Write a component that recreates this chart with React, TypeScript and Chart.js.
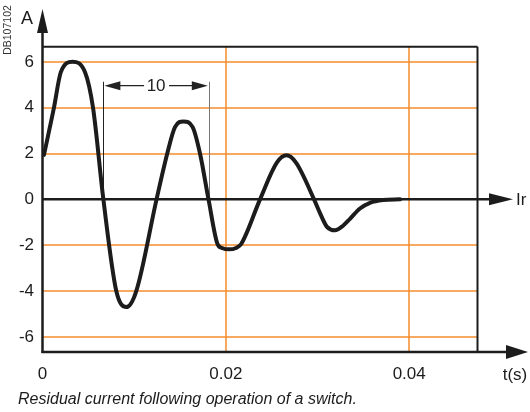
import React, { useEffect, useRef } from 'react';
import { Chart, registerables } from 'chart.js';

Chart.register(...registerables);

// ---- data ----
const timeS = [
  0.00016, 0.00125, 0.002, 0.00327, 0.00464, 0.00551, 0.00664, 0.00805, 0.00916, 0.01023,
  0.01244, 0.01361, 0.01445, 0.01538, 0.01638, 0.01718, 0.01811, 0.01909, 0.01958, 0.02034,
  0.02111, 0.02167, 0.02373, 0.02556, 0.02662, 0.02765, 0.02962, 0.03027, 0.03103, 0.03191,
  0.03278, 0.03354, 0.03463, 0.03572, 0.03714, 0.039,
];
const currentA = [
  1.94, 4.0, 5.55, 6.0, 5.55, 4.0, 0, -4.0, -4.7, -4.0,
  0, 2.0, 3.15, 3.4, 3.15, 2.0, 0, -1.95, -2.12, -2.18,
  -2.12, -1.95, 0, 1.6, 1.92, 1.6, 0, -0.6, -1.2, -1.35,
  -1.15, -0.85, -0.4, -0.15, -0.03, 0,
];
const xTicks = [0, 0.02, 0.04];
const yTicks = [-6, -4, -2, 0, 2, 4, 6];
const xRange = [0, 0.04745];
const yRange = [-6.66, 6.66];
const periodMarks = [0.00664, 0.01814];
const periodTop = 5.13;
const periodArrowLevel = 4.96;
const periodLabel = '10';
const yAxisTitle = 'A';
const xAxisTitle = 't(s)';
const zeroLineLabel = 'Ir';
const docCode = 'DB107102';
const caption = 'Residual current following operation of a switch.';

const ORANGE = '#f58d2e';
const INK = '#1c1c1c';
const FONT = '"Liberation Sans", Arial, Helvetica, sans-serif';

function arrowHead(ctx: CanvasRenderingContext2D, tipX: number, tipY: number, baseX: number, baseY: number, half: number) {
  const dx = tipX - baseX;
  const dy = tipY - baseY;
  const len = Math.hypot(dx, dy);
  const nx = -dy / len;
  const ny = dx / len;
  ctx.beginPath();
  ctx.moveTo(tipX, tipY);
  ctx.lineTo(baseX + nx * half, baseY + ny * half);
  ctx.lineTo(baseX - nx * half, baseY - ny * half);
  ctx.closePath();
  ctx.fill();
}

const decorPlugin = {
  id: 'decor',
  beforeDatasetsDraw(chart: any) {
    const { ctx, chartArea: a, scales } = chart;
    const xs = scales.x;
    const ys = scales.y;
    const y0 = ys.getPixelForValue(0);
    ctx.save();
    // orange grid from the scales' ticks
    ctx.strokeStyle = ORANGE;
    ctx.lineWidth = 1.5;
    ctx.beginPath();
    yTicks.forEach((v) => {
      if (v === 0) return;
      const py = Math.round(ys.getPixelForValue(v));
      ctx.moveTo(a.left, py);
      ctx.lineTo(a.right, py);
    });
    xTicks.forEach((v) => {
      if (v === 0) return;
      const px = Math.round(xs.getPixelForValue(v));
      ctx.moveTo(px, a.top);
      ctx.lineTo(px, a.bottom);
    });
    ctx.stroke();

    ctx.strokeStyle = INK;
    ctx.fillStyle = INK;
    ctx.lineCap = 'butt';
    // top & right frame
    ctx.lineWidth = 2;
    ctx.beginPath();
    ctx.moveTo(a.left, a.top);
    ctx.lineTo(a.right, a.top);
    ctx.moveTo(a.right, a.top);
    ctx.lineTo(a.right, a.bottom);
    ctx.stroke();
    // left axis with arrow
    ctx.lineWidth = 2.5;
    ctx.beginPath();
    ctx.moveTo(a.left, a.bottom + 1);
    ctx.lineTo(a.left, 30);
    ctx.stroke();
    arrowHead(ctx, a.left, 9, a.left, 33, 5.5);
    // bottom axis with arrow
    ctx.beginPath();
    ctx.moveTo(a.left - 1, a.bottom);
    ctx.lineTo(510, a.bottom);
    ctx.stroke();
    arrowHead(ctx, 528, a.bottom, 506, a.bottom, 7);
    // zero line with arrow
    ctx.beginPath();
    ctx.moveTo(a.left, y0);
    ctx.lineTo(492, y0);
    ctx.stroke();
    arrowHead(ctx, 513, y0, 489, y0, 6);
    // period dimension
    const x1 = xs.getPixelForValue(periodMarks[0]);
    const x2 = xs.getPixelForValue(periodMarks[1]);
    const yt = ys.getPixelForValue(periodTop);
    const ya = ys.getPixelForValue(periodArrowLevel);
    ctx.lineWidth = 1;
    ctx.strokeStyle = '#222';
    ctx.beginPath();
    ctx.moveTo(Math.round(x1) + 0.5, yt);
    ctx.lineTo(Math.round(x1) + 0.5, y0);
    ctx.stroke();
    ctx.strokeStyle = '#777';
    ctx.beginPath();
    ctx.moveTo(Math.round(x2) + 0.5, yt);
    ctx.lineTo(Math.round(x2) + 0.5, y0);
    ctx.stroke();
    const mid = (x1 + x2) / 2;
    ctx.strokeStyle = '#222';
    ctx.lineWidth = 1.2;
    ctx.beginPath();
    ctx.moveTo(x1 + 14, ya);
    ctx.lineTo(mid - 12, ya);
    ctx.moveTo(mid + 13, ya);
    ctx.lineTo(x2 - 14, ya);
    ctx.stroke();
    ctx.fillStyle = '#222';
    arrowHead(ctx, x1 + 1, ya, x1 + 17, ya, 4.5);
    arrowHead(ctx, x2 - 1, ya, x2 - 17, ya, 4.5);
    ctx.font = `17px ${FONT}`;
    ctx.textAlign = 'center';
    ctx.textBaseline = 'middle';
    ctx.fillText(periodLabel, mid, ya + 1);
    ctx.restore();
  },
  afterDraw(chart: any) {
    const { ctx, scales } = chart;
    const y0 = scales.y.getPixelForValue(0);
    ctx.save();
    ctx.fillStyle = INK;
    ctx.textBaseline = 'middle';
    ctx.font = `18px ${FONT}`;
    ctx.textAlign = 'center';
    ctx.fillText(yAxisTitle, 27, 19);
    ctx.font = `17px ${FONT}`;
    ctx.fillText(xAxisTitle, 515, 375);
    ctx.textAlign = 'left';
    ctx.fillText(zeroLineLabel, 516, y0 + 1);
    ctx.font = `italic 16px ${FONT}`;
    ctx.fillText(caption, 18, 400);
    // document code, rotated
    ctx.save();
    ctx.translate(8, 30);
    ctx.rotate(-Math.PI / 2);
    ctx.fillStyle = '#333';
    ctx.font = `10.5px ${FONT}`;
    ctx.textAlign = 'center';
    ctx.fillText(docCode, 0, 0);
    ctx.restore();
    ctx.restore();
  },
};

export default function App() {
  const canvasRef = useRef<HTMLCanvasElement | null>(null);

  useEffect(() => {
    const canvas = canvasRef.current;
    if (!canvas) return;
    const points = timeS.map((t, i) => ({ x: t, y: currentA[i] }));
    const chart = new Chart(canvas, {
      type: 'line',
      data: {
        datasets: [
          {
            data: points,
            borderColor: INK,
            borderWidth: 4,
            pointRadius: 0,
            cubicInterpolationMode: 'monotone',
            borderCapStyle: 'round',
            borderJoinStyle: 'round',
            fill: false,
          },
        ],
      },
      options: {
        animation: false,
        responsive: false,
        devicePixelRatio: 1,
        layout: { padding: { left: 0, top: 46.7, right: 52.5, bottom: 0 } },
        plugins: { legend: { display: false }, tooltip: { enabled: false } },
        scales: {
          x: {
            type: 'linear',
            min: xRange[0],
            max: xRange[1],
            afterBuildTicks: (s: any) => {
              s.ticks = xTicks.map((v) => ({ value: v }));
            },
            afterFit: (s: any) => {
              s.height = 60;
            },
            ticks: {
              autoSkip: false,
              maxRotation: 0,
              padding: 12,
              color: INK,
              font: { family: FONT, size: 17 },
              callback: (v: any) => String(v),
            },
            grid: { display: false, drawTicks: false },
            border: { display: false },
          },
          y: {
            type: 'linear',
            min: yRange[0],
            max: yRange[1],
            afterBuildTicks: (s: any) => {
              s.ticks = yTicks.map((v) => ({ value: v }));
            },
            afterFit: (s: any) => {
              s.width = 42.5;
            },
            ticks: {
              autoSkip: false,
              padding: 8.5,
              color: INK,
              font: { family: FONT, size: 17 },
              callback: (v: any) => String(v),
            },
            grid: { display: false, drawTicks: false },
            border: { display: false },
          },
        },
      },
      plugins: [decorPlugin],
    } as any);
    return () => chart.destroy();
  }, []);

  return (
    <div style={{ position: 'absolute', left: 0, top: 0, width: 530, height: 412, background: '#fff' }}>
      <canvas ref={canvasRef} width={530} height={412} style={{ display: 'block', width: 530, height: 412 }} />
    </div>
  );
}
